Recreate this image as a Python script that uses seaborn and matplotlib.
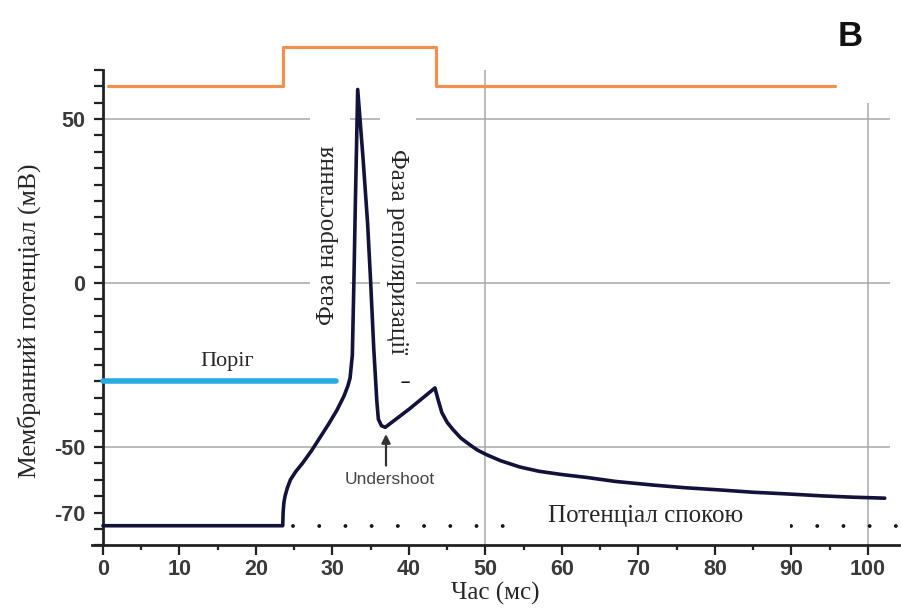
import numpy as np
import pandas as pd
import matplotlib
matplotlib.use("Agg")
import matplotlib.pyplot as plt
import seaborn as sns
from matplotlib.patches import Rectangle
from matplotlib.ticker import FixedLocator

# ---- data ----
time_ms = [0, 23.5, 23.55, 23.65, 23.8, 24.1, 24.5, 25.2, 26.1, 27.3, 28.4, 29.5, 30.6, 31.5,
           32.0, 32.3, 32.6, 32.8, 33.0, 33.3,
           34.0, 34.6, 35.0, 35.4, 35.8, 36.0, 36.4, 36.9, 40.0, 43.4,
           43.8, 44.3, 45.0, 45.8, 46.8, 48.0, 49.0, 50.2, 52.0, 54.5, 57.0, 60.0, 63.3,
           67.0, 71.9, 76.0, 80.7, 85.0, 89.4, 94.0, 98.0, 102.2]
membrane_mv = [-74, -74, -70, -67, -65, -62.5, -60, -57.5, -54.9, -51, -47, -43, -38.7, -34.5,
               -31.5, -29, -22, 0, 25, 59,
               38, 18, 0, -20, -36, -41.5, -43.5, -44, -38.5, -32,
               -35.5, -39.5, -42.5, -44.8, -47.3, -49.4, -51.0, -52.4, -54.2, -56.1, -57.4, -58.4, -59.3,
               -60.5, -61.6, -62.4, -63.1, -63.8, -64.3, -64.9, -65.3, -65.6]

stim_t = [0.7, 23.5, 23.5, 43.5, 43.5, 95.7]
stim_v = [60, 60, 72, 72, 60, 60]

threshold_t = [0, 30.5]
threshold_v = [-30, -30]

rest_t = [24.8, 104]
rest_v = [-74, -74]

x_major = [0, 10, 20, 30, 40, 50, 60, 70, 80, 90, 100]
x_labels = ["0", "10", "20", "30", "40", "50", "60", "70", "80", "90", "100"]
y_major = [50, 0, -50, -70]
y_labels = ["50", "0", "-50", "-70"]
grid_y = [50, 0, -50]
grid_x = [50, 100]
grid_x_top = [65, 55]

# ---- style ----
sns.set_style("white")
plt.rcParams["font.family"] = ["Liberation Sans", "DejaVu Sans"]
SERIF = ["Liberation Serif", "DejaVu Serif"]

fig = plt.figure(figsize=(9.01, 6.10), dpi=100)
ax = fig.add_axes([91.5 / 901, 1 - 545.4 / 610, 807 / 901, 508.4 / 610])
ax.set_xlim(-1.5, 104)
ax.set_ylim(-80, 75)

# gridlines
ax.hlines(grid_y, 0, 102.9, color="#a8a8a8", lw=1.1, zorder=1)
for gx, gt in zip(grid_x, grid_x_top):
    ax.vlines(gx, -80, gt, color="#a8a8a8", lw=1.1, zorder=1)

# resting potential dotted line
sns.lineplot(x=rest_t, y=rest_v, ax=ax, color="#151515", lw=2.8,
             linestyle=(0, (0.01, 6.73)), dash_capstyle="round", zorder=1.5)

# white label backgrounds
for (x0, y0, w, h) in [(27.0, -22, 5.3, 78), (36.2, -26.5, 4.7, 82.3), (52.5, -77, 37.3, 11.2)]:
    ax.add_patch(Rectangle((x0, y0), w, h, facecolor="white", edgecolor="none", zorder=2))

# stimulus (orange)
sns.lineplot(x=stim_t, y=stim_v, ax=ax, sort=False, estimator=None, color="#F2904E",
             lw=2.3, zorder=3)
ax.lines[-1].set_clip_on(False)

# threshold (blue)
sns.lineplot(x=threshold_t, y=threshold_v, ax=ax, color="#2AAAE2", lw=4.0,
             solid_capstyle="round", zorder=3)

# membrane potential trace
sns.lineplot(x=time_ms, y=membrane_mv, ax=ax, sort=False, estimator=None, color="#12123A",
             lw=2.6, zorder=4)

# ---- texts ----
ax.text(29.4, 14.6, "Фаза наростання", rotation=90, ha="center", va="center",
        fontsize=18, family=SERIF, zorder=3)
ax.text(38.4, 9.6, "Фаза реполяризації", rotation=-90, ha="center", va="center",
        fontsize=18, family=SERIF, zorder=3)
ax.text(16.3, -24, "Поріг", ha="center", va="center", fontsize=16, family=SERIF, zorder=3)
ax.text(71.0, -72.9, "Потенціал спокою", ha="center", va="baseline", fontsize=18,
        family=SERIF, zorder=3)
ax.text(37.5, -60, "Undershoot", ha="center", va="center", fontsize=12.5, color="#444444", zorder=3)
ax.text(39.5, -30.2, "–", ha="center", va="center", fontsize=12, fontweight="bold",
        color="#111111", zorder=3)
ax.annotate("", xy=(37.0, -45.2), xytext=(37.0, -56.5),
            arrowprops=dict(arrowstyle="-|>", color="#333333", lw=1.6, mutation_scale=13),
            zorder=3)

fig.text(850 / 901, 1 - 37 / 610, "B", fontsize=25, fontweight="bold", ha="center",
         va="center", color="#111111")

# ---- axes ----
for s in ["top", "right"]:
    ax.spines[s].set_visible(False)
ax.spines["left"].set_position(("data", 0))
ax.spines["left"].set_bounds(-80, 65)
ax.spines["left"].set_linewidth(2.0)
ax.spines["bottom"].set_linewidth(2.0)
ax.spines["left"].set_color("#222222")
ax.spines["bottom"].set_color("#222222")

ax.set_xticks(x_major)
ax.set_xticklabels(x_labels)
ax.xaxis.set_minor_locator(FixedLocator(np.arange(5, 104, 10)))
ax.set_yticks(y_major)
ax.set_yticklabels(y_labels)
ax.yaxis.set_minor_locator(FixedLocator([v for v in np.arange(-80, 66, 5) if v not in y_major]))

ax.tick_params(axis="x", which="major", direction="out", length=7, width=1.6, color="#222222",
               pad=3, labelsize=15.5, labelcolor="#3a3a3a")
ax.tick_params(axis="x", which="minor", direction="out", length=3.5, width=1.6, color="#222222")
ax.tick_params(axis="y", which="both", direction="out", length=6.5, width=1.6, color="#222222",
               pad=6, labelsize=15.5, labelcolor="#3a3a3a")
ax.tick_params(axis="both", which="both", bottom=True, left=True)
for lab in ax.get_xticklabels() + ax.get_yticklabels():
    lab.set_fontweight("bold")

ax.set_xlabel("Час (мс)", fontsize=18, family=SERIF)
ax.xaxis.set_label_coords(0.5, -0.0945)
ax.xaxis.label.set_va("center")
ax.set_ylabel("Мембранний потенціал (мВ)", fontsize=18.5, family=SERIF)
ax.yaxis.set_label_coords(-0.0774, 0.441)
ax.yaxis.label.set_va("center")

fig.savefig("out.png", dpi=100)
